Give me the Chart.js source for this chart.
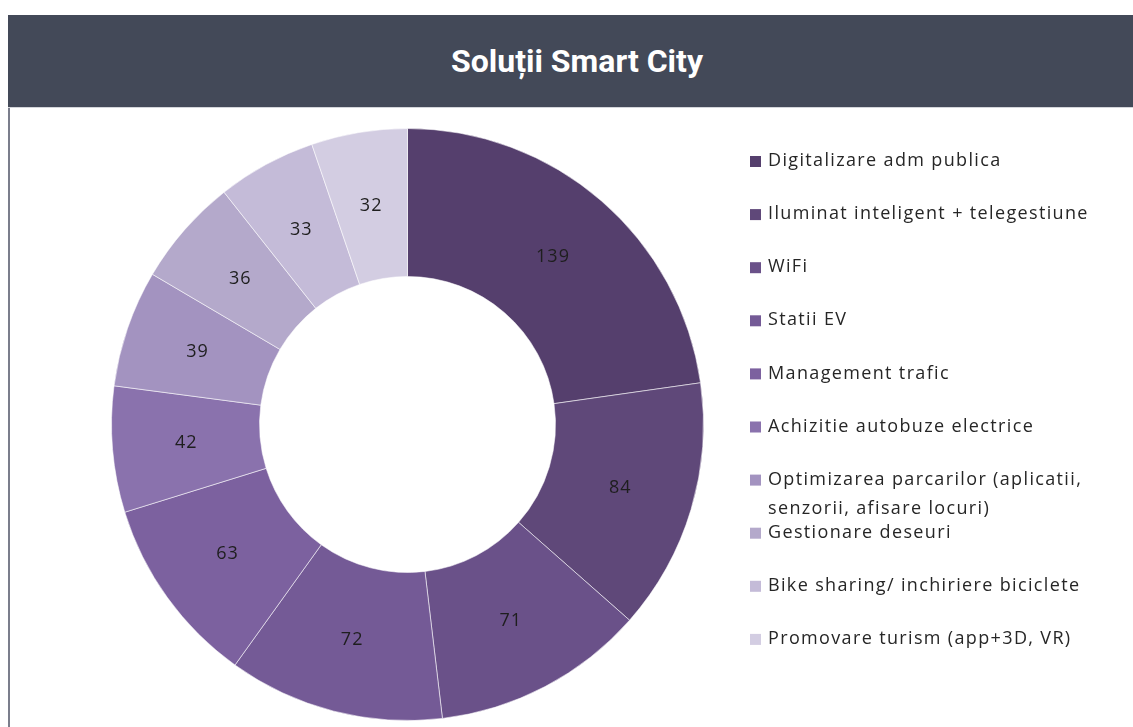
<!DOCTYPE html>
<html>
<head>
<meta charset="utf-8">
<script src="https://cdn.jsdelivr.net/npm/chart.js@4.4.1/dist/chart.umd.min.js"></script>
<style>
  body { margin: 0; background: #fff; width: 1133px; height: 727px; overflow: hidden; position: relative; }
  #header {
    position: absolute; left: 8px; top: 15px; width: 1112px; height: 92px; padding-left: 13px;
    background: #434958; border-bottom: 1px solid #d3d5da;
    color: #fff; font-family: Roboto, sans-serif; font-weight: bold; font-size: 32px;
    display: flex; align-items: center; justify-content: center;
  }
  #panel {
    position: absolute; left: 8px; top: 108px; width: 1123px; height: 619px;
    border-left: 2px solid #7b7e8c;
  }
  canvas { display: block; }
</style>
</head>
<body>
<div id="header">Soluții Smart City</div>
<div id="panel"><canvas id="donut" width="1123" height="619"></canvas></div>
<script>
const categories = [
  'Digitalizare adm publica',
  'Iluminat inteligent + telegestiune',
  'WiFi',
  'Statii EV',
  'Management trafic',
  'Achizitie autobuze electrice',
  ['Optimizarea parcarilor (aplicatii,', 'senzorii, afisare locuri)'],
  'Gestionare deseuri',
  'Bike sharing/ inchiriere biciclete',
  'Promovare turism (app+3D, VR)'
];
const counts = [139, 84, 71, 72, 63, 42, 39, 36, 33, 32];
const colors = ['#553f6d', '#5f4879', '#6a5189', '#745a96', '#7c619f',
                '#8a72ad', '#a393c0', '#b4a9cb', '#c4bbd8', '#d3cde2'];

// numbers in the middle of each slice
const sliceLabels = {
  id: 'sliceLabels',
  afterDatasetsDraw(chart) {
    const ctx = chart.ctx;
    const meta = chart.getDatasetMeta(0);
    ctx.save();
    ctx.font = '18px "Open Sans", sans-serif';
    ctx.letterSpacing = '1px';
    ctx.fillStyle = '#1e1e1e';
    ctx.textAlign = 'center';
    ctx.textBaseline = 'middle';
    meta.data.forEach((arc, i) => {
      const p = arc.tooltipPosition();
      ctx.fillText(chart.data.datasets[0].data[i], p.x, p.y);
    });
    ctx.restore();
  }
};

// legend on the right, drawn by hand to match the spacing
const sideLegend = {
  id: 'sideLegend',
  afterDraw(chart) {
    const ctx = chart.ctx;
    const bg = chart.data.datasets[0].backgroundColor;
    ctx.save();
    ctx.font = '18px "Open Sans", sans-serif';
    ctx.letterSpacing = '1.35px';
    ctx.textBaseline = 'middle';
    chart.data.labels.forEach((lab, i) => {
      const y = 53 + i * 53.1;
      ctx.fillStyle = bg[i];
      ctx.fillRect(740, y - 5, 11, 11);
      ctx.fillStyle = '#262626';
      const lines = Array.isArray(lab) ? lab : [lab];
      lines.forEach((t, k) => ctx.fillText(t, 758, y + k * 29));
    });
    ctx.restore();
  }
};

new Chart(document.getElementById('donut'), {
  type: 'doughnut',
  data: {
    labels: categories,
    datasets: [{
      data: counts,
      backgroundColor: colors,
      borderColor: 'rgba(255,255,255,0.55)',
      borderWidth: 1
    }]
  },
  options: {
    responsive: false,
    animation: false,
    cutout: '50%',
    layout: { padding: { left: 101, top: 20, right: 429, bottom: 6 } },
    plugins: {
      legend: { display: false },
      tooltip: { enabled: false }
    }
  },
  plugins: [sliceLabels, sideLegend]
});
</script>
</body>
</html>
